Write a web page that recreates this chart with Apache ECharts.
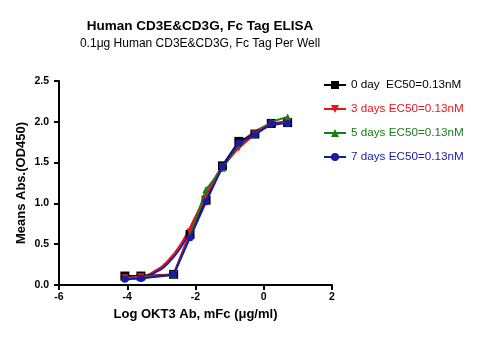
<!DOCTYPE html>
<html><head><meta charset="utf-8">
<script src="https://cdn.jsdelivr.net/npm/echarts@6/dist/echarts.min.js"></script>
<style>html,body{margin:0;padding:0;background:#fff}#c{width:480px;height:342px}</style>
</head><body><div id="c"></div>
<script>
const logConc = [-4.07, -3.60, -2.64, -2.16, -1.69, -1.21, -0.73, -0.26, 0.22, 0.70];
const day0 = [0.11, 0.11, 0.13, 0.62, 1.04, 1.46, 1.76, 1.85, 1.98, 1.99];
const day3 = [0.09, 0.10, 0.13, 0.65, 1.10, 1.45, 1.68, 1.85, 1.97, 2.00];
const day5 = [0.09, 0.09, 0.12, 0.60, 1.17, 1.43, 1.73, 1.85, 2.00, 2.06];
const day7 = [0.07, 0.08, 0.13, 0.58, 1.02, 1.45, 1.74, 1.84, 1.98, 1.98];
const fitX = [-4.1, -3.6, -3.2, -2.8, -2.4, -2.0, -1.6, -1.2, -0.8, -0.4, 0.0, 0.4, 0.7];
const fitRed = [0.10, 0.11, 0.17, 0.30, 0.52, 0.84, 1.18, 1.47, 1.69, 1.84, 1.94, 1.99, 2.01];
const fitBlue = [0.09, 0.10, 0.15, 0.27, 0.48, 0.79, 1.13, 1.44, 1.67, 1.82, 1.92, 1.97, 1.99];
const names = ['0 day  EC50=0.13nM', '3 days EC50=0.13nM', '5 days EC50=0.13nM', '7 days EC50=0.13nM'];
const colors = ['#000000', '#e8141b', '#1a7d1a', '#1a1aa6'];
const symbols = ['rect', 'path://M0,0 L10,0 L5,9 Z', 'triangle', 'circle'];
const yTicks = [0, 0.5, 1.0, 1.5, 2.0, 2.5];
const xTicks = [-6, -4, -2, 0, 2];

const FONT = 'Liberation Sans, Arial, sans-serif';
const pair = (xs, ys) => xs.map((x, i) => [x, ys[i]]);
const sets = [day0, day3, day5, day7];
const dataSeries = sets.map((ys, i) => ({
  name: names[i], type: 'line', data: pair(logConc, ys),
  symbol: symbols[i], symbolSize: i === 0 ? 9 : 7,
  itemStyle: {color: colors[i]},
  lineStyle: {color: colors[i], width: 2},
  z: 3 + i
}));
const fitSeries = [
  {name: 'fitRed', type: 'line', data: pair(fitX, fitRed), smooth: true, symbol: 'none', lineStyle: {color: colors[1], width: 2}, z: 2},
  {name: 'fitBlue', type: 'line', data: pair(fitX, fitBlue), smooth: true, symbol: 'none', lineStyle: {color: colors[3], width: 2}, z: 2}
];

const chart = echarts.init(document.getElementById('c'), null, {renderer: 'canvas'});
chart.setOption({
  animation: false,
  backgroundColor: '#fff',
  title: {
    text: 'Human CD3E&CD3G, Fc Tag ELISA',
    subtext: '0.1μg Human CD3E&CD3G, Fc Tag Per Well',
    left: 195, top: 14, textAlign: 'center', itemGap: 5,
    textStyle: {fontFamily: FONT, fontSize: 13.5, fontWeight: 'bold', color: '#000'},
    subtextStyle: {fontFamily: FONT, fontSize: 12, color: '#000'}
  },
  legend: {
    orient: 'vertical', left: 318, top: 74, itemGap: 12, itemWidth: 22, itemHeight: 10,
    data: names.map((n, i) => ({name: n, textStyle: {color: colors[i], fontFamily: FONT, fontSize: 11.7}})),
    textStyle: {fontFamily: FONT, fontSize: 11.7}
  },
  grid: {left: 59, right: 148, top: 81, bottom: 57},
  xAxis: {
    type: 'value', min: -6, max: 2, interval: 2,
    name: 'Log OKT3 Ab, mFc (μg/ml)', nameLocation: 'middle', nameGap: 23,
    nameTextStyle: {fontFamily: FONT, fontSize: 13, fontWeight: 'bold', color: '#000'},
    axisLine: {onZero: false, lineStyle: {color: '#000', width: 2}},
    axisTick: {lineStyle: {color: '#000', width: 2}, length: 5},
    axisLabel: {fontFamily: FONT, fontSize: 10.5, fontWeight: 'bold', color: '#000', margin: 7},
    splitLine: {show: false}
  },
  yAxis: {
    type: 'value', min: 0, max: 2.5, interval: 0.5,
    name: 'Means Abs.(OD450)', nameLocation: 'middle', nameGap: 31, nameMoveOverlap: false,
    nameTextStyle: {fontFamily: FONT, fontSize: 13, fontWeight: 'bold', color: '#000'},
    axisLine: {show: true, onZero: false, lineStyle: {color: '#000', width: 2}},
    axisTick: {show: true, lineStyle: {color: '#000', width: 2}, length: 5},
    axisLabel: {fontFamily: FONT, fontSize: 10.5, fontWeight: 'bold', color: '#000', margin: 10,
      formatter: v => v.toFixed(1)},
    splitLine: {show: false}
  },
  series: fitSeries.concat(dataSeries)
});
</script></body></html>
